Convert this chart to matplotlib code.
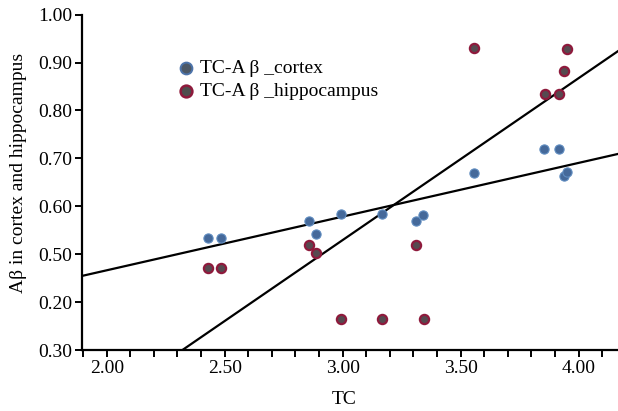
import matplotlib
matplotlib.use("Agg")
import matplotlib.pyplot as plt
import numpy as np

# cortex points
cortex_tc = [2.428, 2.484, 2.858, 2.886, 2.991, 3.167, 3.310, 3.341, 3.556, 3.853, 3.917, 3.937, 3.951]
cortex_ab = [0.534, 0.534, 0.570, 0.542, 0.584, 0.584, 0.569, 0.582, 0.669, 0.720, 0.720, 0.663, 0.671]

# hippocampus points
hippo_tc = [2.428, 2.484, 2.858, 2.886, 2.991, 3.167, 3.343, 3.310, 3.556, 3.856, 3.917, 3.938, 3.951]
hippo_ab = [0.472, 0.472, 0.519, 0.502, 0.365, 0.365, 0.365, 0.519, 0.930, 0.834, 0.834, 0.882, 0.929]

# fitted lines (slope, intercept)
cortex_fit = (0.1121, 0.2422)
hippo_fit = (0.338, -0.4845)

yticks = [0.30, 0.40, 0.50, 0.60, 0.70, 0.80, 0.90, 1.00]
ytick_labels = ["0.30", "0.20", "0.50", "0.60", "0.70", "0.80", "0.90", "1.00"]
xticks = [2.0, 2.5, 3.0, 3.5, 4.0]
xtick_labels = ["2.00", "2.50", "3.00", "3.50", "4.00"]

plt.rcParams['font.family'] = ['Liberation Serif', 'DejaVu Serif']

fig = plt.figure(figsize=(6.18, 4.11), dpi=100)
ax = fig.add_axes([81.7 / 618, 61 / 411, 1 - 81.7 / 618, (350 - 14.7) / 411])

xmin, xmax = 1.894, 4.167
ax.set_xlim(xmin, xmax)
ax.set_ylim(0.30, 1.00)

xs = np.array([xmin, xmax])
ax.plot(xs, cortex_fit[0] * xs + cortex_fit[1], color='black', lw=1.6, zorder=2)
ax.plot(xs, hippo_fit[0] * xs + hippo_fit[1], color='black', lw=1.6, zorder=2)

ax.scatter(cortex_tc, cortex_ab, s=44, color='#45699a', edgecolors='#5f8cc0',
           linewidths=0.8, zorder=3)
ax.scatter(hippo_tc, hippo_ab, s=44, color='#564a50', edgecolors='#8e1a3c',
           linewidths=1.6, zorder=3)

# legend handles
h1 = ax.scatter([], [], s=72, color='#4c5866', edgecolors='#4d74aa', linewidths=1.4)
h2 = ax.scatter([], [], s=72, color='#4e4e4e', edgecolors='#8e1a3c', linewidths=1.8)
ax.legend([h1, h2], ["TC-A β _cortex", "TC-A β _hippocampus"], loc='upper left',
          bbox_to_anchor=(0.158, 0.89), frameon=False, fontsize=14,
          handletextpad=0.15, labelspacing=0.3, borderaxespad=0, handlelength=1.2)

ax.spines['top'].set_visible(False)
ax.spines['right'].set_visible(False)
ax.spines['left'].set_linewidth(1.6)
ax.spines['bottom'].set_linewidth(1.6)

ax.set_yticks(yticks)
ax.set_yticklabels(ytick_labels)
ax.set_xticks(xticks)
ax.set_xticklabels(xtick_labels)
ax.set_xticks(np.arange(1.9, 4.15, 0.1), minor=True)
ax.tick_params(axis='both', which='both', direction='out', length=5, width=1.4,
               labelsize=14, colors='black')
ax.tick_params(axis='x', pad=2.5)
ax.tick_params(axis='y', pad=2)

ax.set_xlabel("TC", fontsize=14)
ax.xaxis.set_label_coords(0.49, -0.123)
ax.set_ylabel("Aβ in cortex and hippocampus", fontsize=14)
ax.yaxis.set_label_coords(-0.102, 0.528)

fig.savefig("out.png", dpi=100)
